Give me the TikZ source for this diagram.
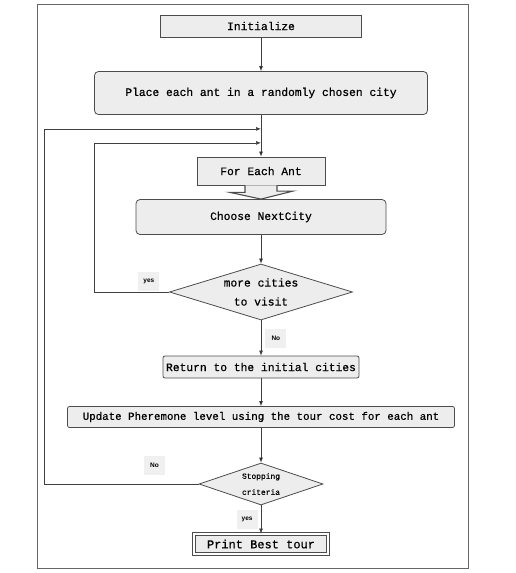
\documentclass[tikz,border=0pt]{standalone}
\usepackage{fontspec}
\setmonofont{Liberation Mono}[FakeBold=0.6]
\setsansfont{Liberation Sans}
\usetikzlibrary{positioning,shapes.geometric,arrows.meta,calc}

\begin{document}
\begin{tikzpicture}[x=1pt,y=-1pt,on grid,
   >={Latex[length=5pt,width=4pt]},
   every node/.style={font=\ttfamily\fontsize{11.3}{19}\selectfont},
   box/.style={draw=black!70,fill=black!7,line width=0.8pt,inner sep=0pt},
   rbox/.style={box,rounded corners=4pt},
   decision/.style={box,diamond,align=center},
   tag/.style={fill=black!6,inner sep=0pt,minimum width=21pt,minimum height=19pt,
      font=\sffamily\bfseries\fontsize{6.5}{7}\selectfont},
   link/.style={draw=black!75,line width=0.7pt}]
   \useasboundingbox (0,0) rectangle (515,573);
   \draw[black!60,line width=1pt] (37,4) rectangle (468,568);

   \node[box,minimum width=201pt,minimum height=22pt] (init) at (261,26) {Initialize};
   \node[rbox,minimum width=333pt,minimum height=43pt] (place) [below=67pt of init] {Place each ant in a randomly chosen city};
   \node[box,minimum width=128pt,minimum height=28pt] (ant) [below=78pt of place] {For Each Ant};
   \node[rbox,minimum width=250pt,minimum height=35pt] (next) [below=46pt of ant] {Choose NextCity};
   \node[decision,minimum width=183pt,minimum height=56pt,aspect=3.3] (more) [below=75pt of next] {more cities\\to visit};
   \node[rbox,rounded corners=2pt,minimum width=196pt,minimum height=22pt] (back) [below=75pt of more] {Return to the initial cities};
   \node[rbox,rounded corners=2pt,minimum width=387pt,minimum height=21pt,font=\ttfamily\fontsize{10.8}{13}\selectfont] (update) [below=50pt of back] {Update Pheremone level using the tour cost for each ant};
   \node[decision,minimum width=124pt,minimum height=42pt,aspect=3,font=\ttfamily\fontsize{7.9}{16}\selectfont] (stop) [below=67pt of update] {Stopping\\criteria};
   \node[box,fill=black!7,double=white,double distance=1.5pt,minimum width=134pt,minimum height=20pt,font=\ttfamily\fontsize{12}{14}\selectfont] (best) [below=60pt of stop] {Print Best tour};

   \coordinate[below=14pt of place.south] (j1);
   \coordinate[below=28pt of place.south] (j2);

   \path[link,->]
   (init) edge (place)
   (place) edge (ant)
   (next) edge (more)
   (back) edge (update)
   (update) edge (stop);
   \draw[link,->] (more) -- node[tag,midway,right=4pt] {No} (back);
   \draw[link,->] (stop) -- node[tag,midway,left=3pt] {yes} (best);

   % wide arrow into Choose NextCity
   \draw[box,line width=1.1pt] ([xshift=-16pt]ant.south) -- ++(0,7) -- ++(-15,0) -- (next.north)
      -- ++(32,-8) -- ++(-16,0) -- ([xshift=16pt]ant.south);

   % loops back
   \draw[link,->] (more.west) -- node[tag,pos=0.27,above=1pt] {yes} ++(-75,0) |- (j2);
   \draw[link,->] (stop.west) -- node[tag,pos=0.286,above=8.5pt] {No} ++(-154,0) |- (j1);
\end{tikzpicture}
\end{document}
